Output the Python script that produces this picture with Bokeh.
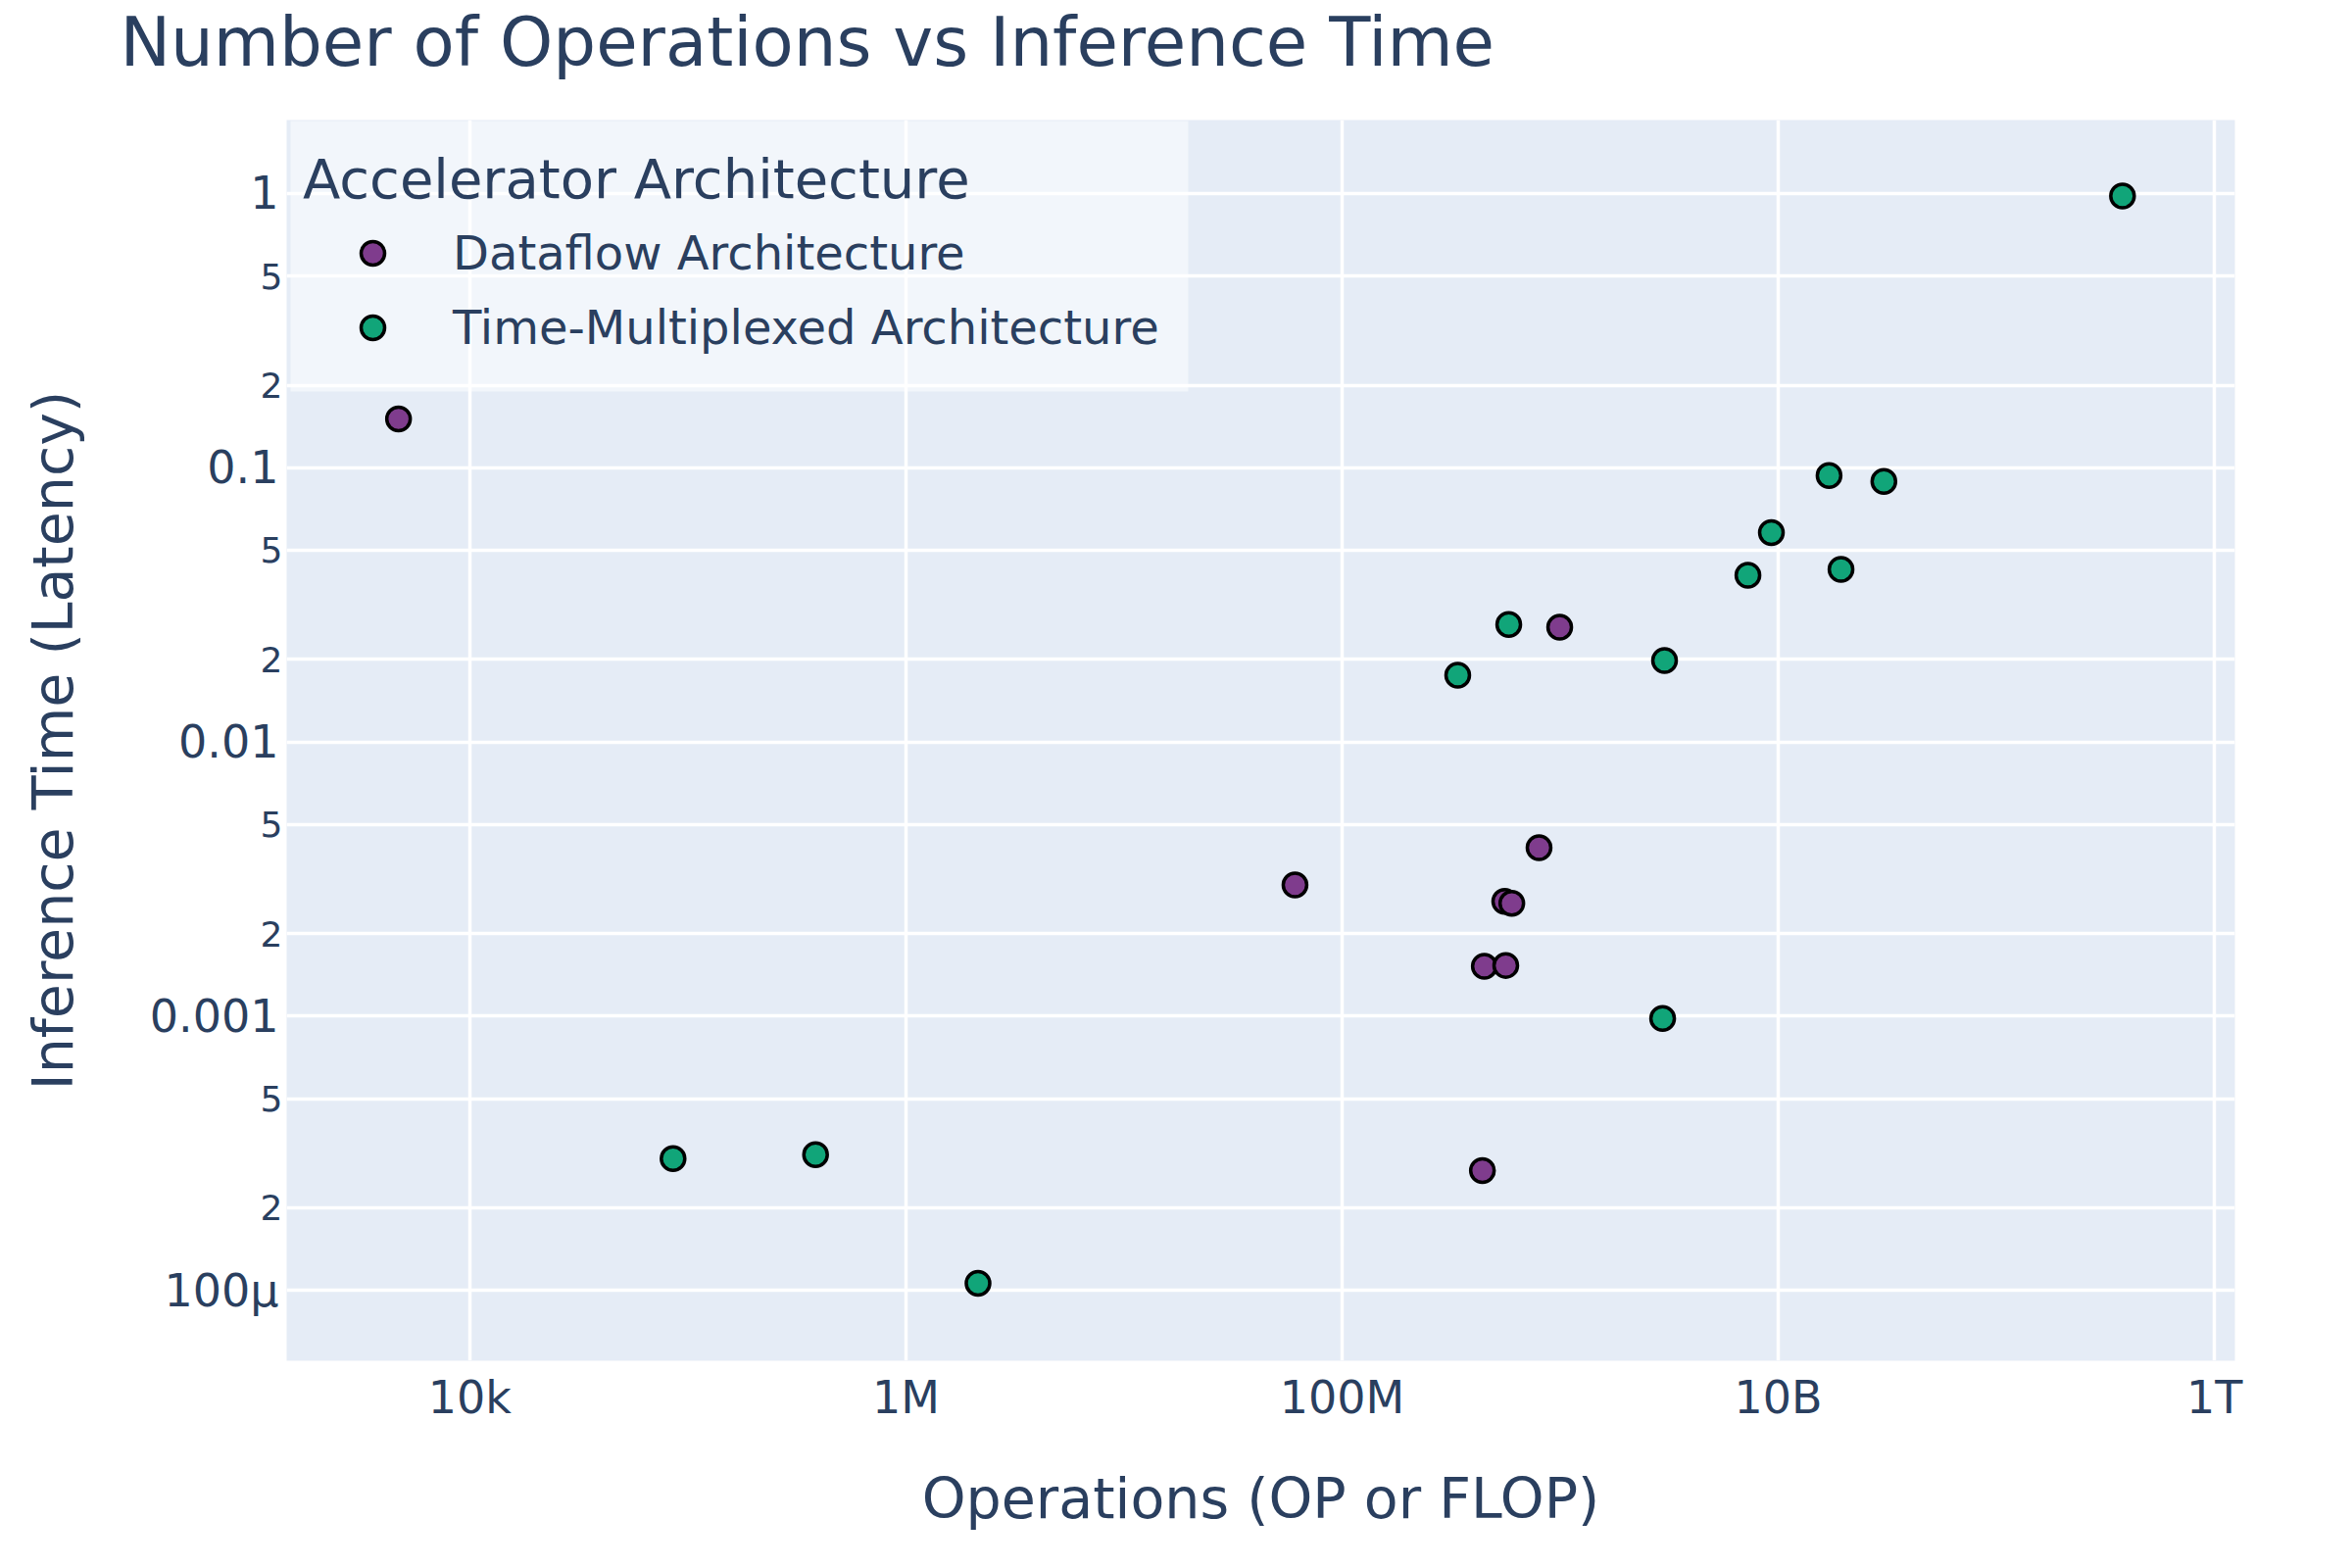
from bokeh.plotting import figure
from bokeh.models import (FixedTicker, Range1d, LogAxis,
                          CustomJSTickFormatter, BoxAnnotation, Title)
from bokeh.embed import file_html
from bokeh.resources import INLINE

# ---------------- data ----------------
dataflow_ops = [4.71e3, 6.08e7, 8.0e8, 5.57e8, 6.0e8, 4.49e8, 5.63e8, 4.4e8, 9.95e8]
dataflow_time = [0.1507, 3.01e-3, 4.11e-3, 2.62e-3, 2.58e-3, 1.52e-3, 1.53e-3, 2.73e-4, 0.0262]

tm_ops = [3.79e11, 1.71e10, 3.05e10, 9.3e9, 7.26e9, 1.94e10, 5.81e8, 3.01e9,
          3.39e8, 2.95e9, 8.55e4, 3.85e5, 2.14e6]
tm_time = [0.98, 0.0936, 0.0891, 0.058, 0.0405, 0.0426, 0.0268, 0.0198,
           0.0175, 9.8e-4, 3.02e-4, 3.12e-4, 1.06e-4]

x_ticks = [1e4, 1e6, 1e8, 1e10, 1e12]
x_labels = ["10k", "1M", "100M", "10B", "1T"]
y_major = [1e-4, 1e-3, 1e-2, 1e-1, 1.0]
y_major_labels = ["100μ", "0.001", "0.01", "0.1", "1"]
y_minor = [2e-4, 5e-4, 2e-3, 5e-3, 2e-2, 5e-2, 0.2, 0.5]
y_minor_labels = ["2", "5", "2", "5", "2", "5", "2", "5"]

series_names = ["Dataflow Architecture", "Time-Multiplexed Architecture"]
series_colors = ["#7F3C8D", "#11A579"]

# ---------------- style ----------------
FONT = "DejaVu Sans"
TXT = "#2a3f5f"

W, H = 2384, 1584
p = figure(width=W, height=H, x_axis_type="log", y_axis_type="log",
           x_range=Range1d(10 ** 3.160, 10 ** 12.094),
           y_range=Range1d(10 ** -4.257, 10 ** 0.268),
           output_backend="svg", toolbar_location=None,
           min_border_left=292, min_border_right=104,
           min_border_top=121, min_border_bottom=196,
           background_fill_color="#E5ECF6", border_fill_color="white")
p.outline_line_color = None

# thin blank spacer between the title and the plot frame
p.add_layout(Title(text=" ", text_font=FONT, text_font_size="1px", standoff=37), "above")
p.add_layout(Title(text="Number of Operations vs Inference Time",
                   text_font=FONT, text_font_size="69px", text_font_style="normal",
                   text_color=TXT, align="left", offset=-170, standoff=0), "above")

fmt_code = """
const i = tvals.findIndex(t => Math.abs(Math.log10(t) - Math.log10(tick)) < 1e-6);
return i >= 0 ? tlabs[i] : '';
"""
xax = p.below[0]
yax = p.left[0]
xax.ticker = FixedTicker(ticks=x_ticks)
xax.formatter = CustomJSTickFormatter(args=dict(tvals=x_ticks, tlabs=x_labels), code=fmt_code)
yax.ticker = FixedTicker(ticks=y_major)
yax.formatter = CustomJSTickFormatter(args=dict(tvals=y_major, tlabs=y_major_labels), code=fmt_code)

for ax in (xax, yax):
    ax.axis_line_color = None
    ax.major_tick_line_color = None
    ax.minor_tick_line_color = None
    ax.major_tick_out = 0
    ax.major_tick_in = 0
    ax.minor_tick_out = 0
    ax.minor_tick_in = 0
    ax.major_label_text_font = FONT
    ax.major_label_text_font_size = "46px"
    ax.major_label_text_color = TXT
    ax.axis_label_text_font = FONT
    ax.axis_label_text_font_size = "57px"
    ax.axis_label_text_font_style = "normal"
    ax.axis_label_text_color = TXT

xax.axis_label = "Operations (OP or FLOP)"
yax.axis_label = "Inference Time (Latency)"
xax.major_label_standoff = 10
xax.axis_label_standoff = 40
yax.major_label_standoff = -22
yax.axis_label_standoff = 63

# inner axis carrying the smaller 2 / 5 labels
minor_axis = LogAxis(ticker=FixedTicker(ticks=y_minor),
                     formatter=CustomJSTickFormatter(args=dict(tvals=y_minor, tlabs=y_minor_labels),
                                                     code=fmt_code),
                     axis_line_color=None, major_tick_line_color=None,
                     minor_tick_line_color=None, major_tick_out=0, major_tick_in=0,
                     minor_tick_out=0, minor_tick_in=0,
                     major_label_standoff=4, major_label_text_font=FONT,
                     major_label_text_font_size="36px", major_label_text_color=TXT)
p.left = [minor_axis, yax]

p.xgrid.ticker = FixedTicker(ticks=x_ticks)
p.ygrid.ticker = FixedTicker(ticks=y_major + y_minor)
for g in (p.xgrid, p.ygrid):
    g.grid_line_color = "white"
    g.grid_line_width = 3.5

# legend background box
p.add_layout(BoxAnnotation(left=4, right=920, top=1265, bottom=989,
                           left_units="screen", right_units="screen",
                           top_units="screen", bottom_units="screen",
                           fill_color="white", fill_alpha=0.5, line_color=None,
                           level="underlay"))

p.scatter(dataflow_ops, dataflow_time, size=24, fill_color=series_colors[0],
          line_color="black", line_width=3.5, legend_label=series_names[0])
p.scatter(tm_ops, tm_time, size=24, fill_color=series_colors[1],
          line_color="black", line_width=3.5, legend_label=series_names[1])

lg = p.legend[0]
lg.location = (17, 1024)
lg.margin = 0
lg.padding = 0
lg.title = "Accelerator Architecture"
lg.title_text_font = FONT
lg.title_text_font_size = "56px"
lg.title_text_font_style = "normal"
lg.title_text_color = TXT
lg.title_standoff = 13
lg.label_text_font = FONT
lg.label_text_font_size = "48px"
lg.label_text_color = TXT
lg.glyph_width = 142
lg.glyph_height = 60
lg.label_standoff = 11
lg.spacing = 16
lg.background_fill_alpha = 0
lg.border_line_color = None

open("out.html", "w").write(file_html(p, INLINE))
